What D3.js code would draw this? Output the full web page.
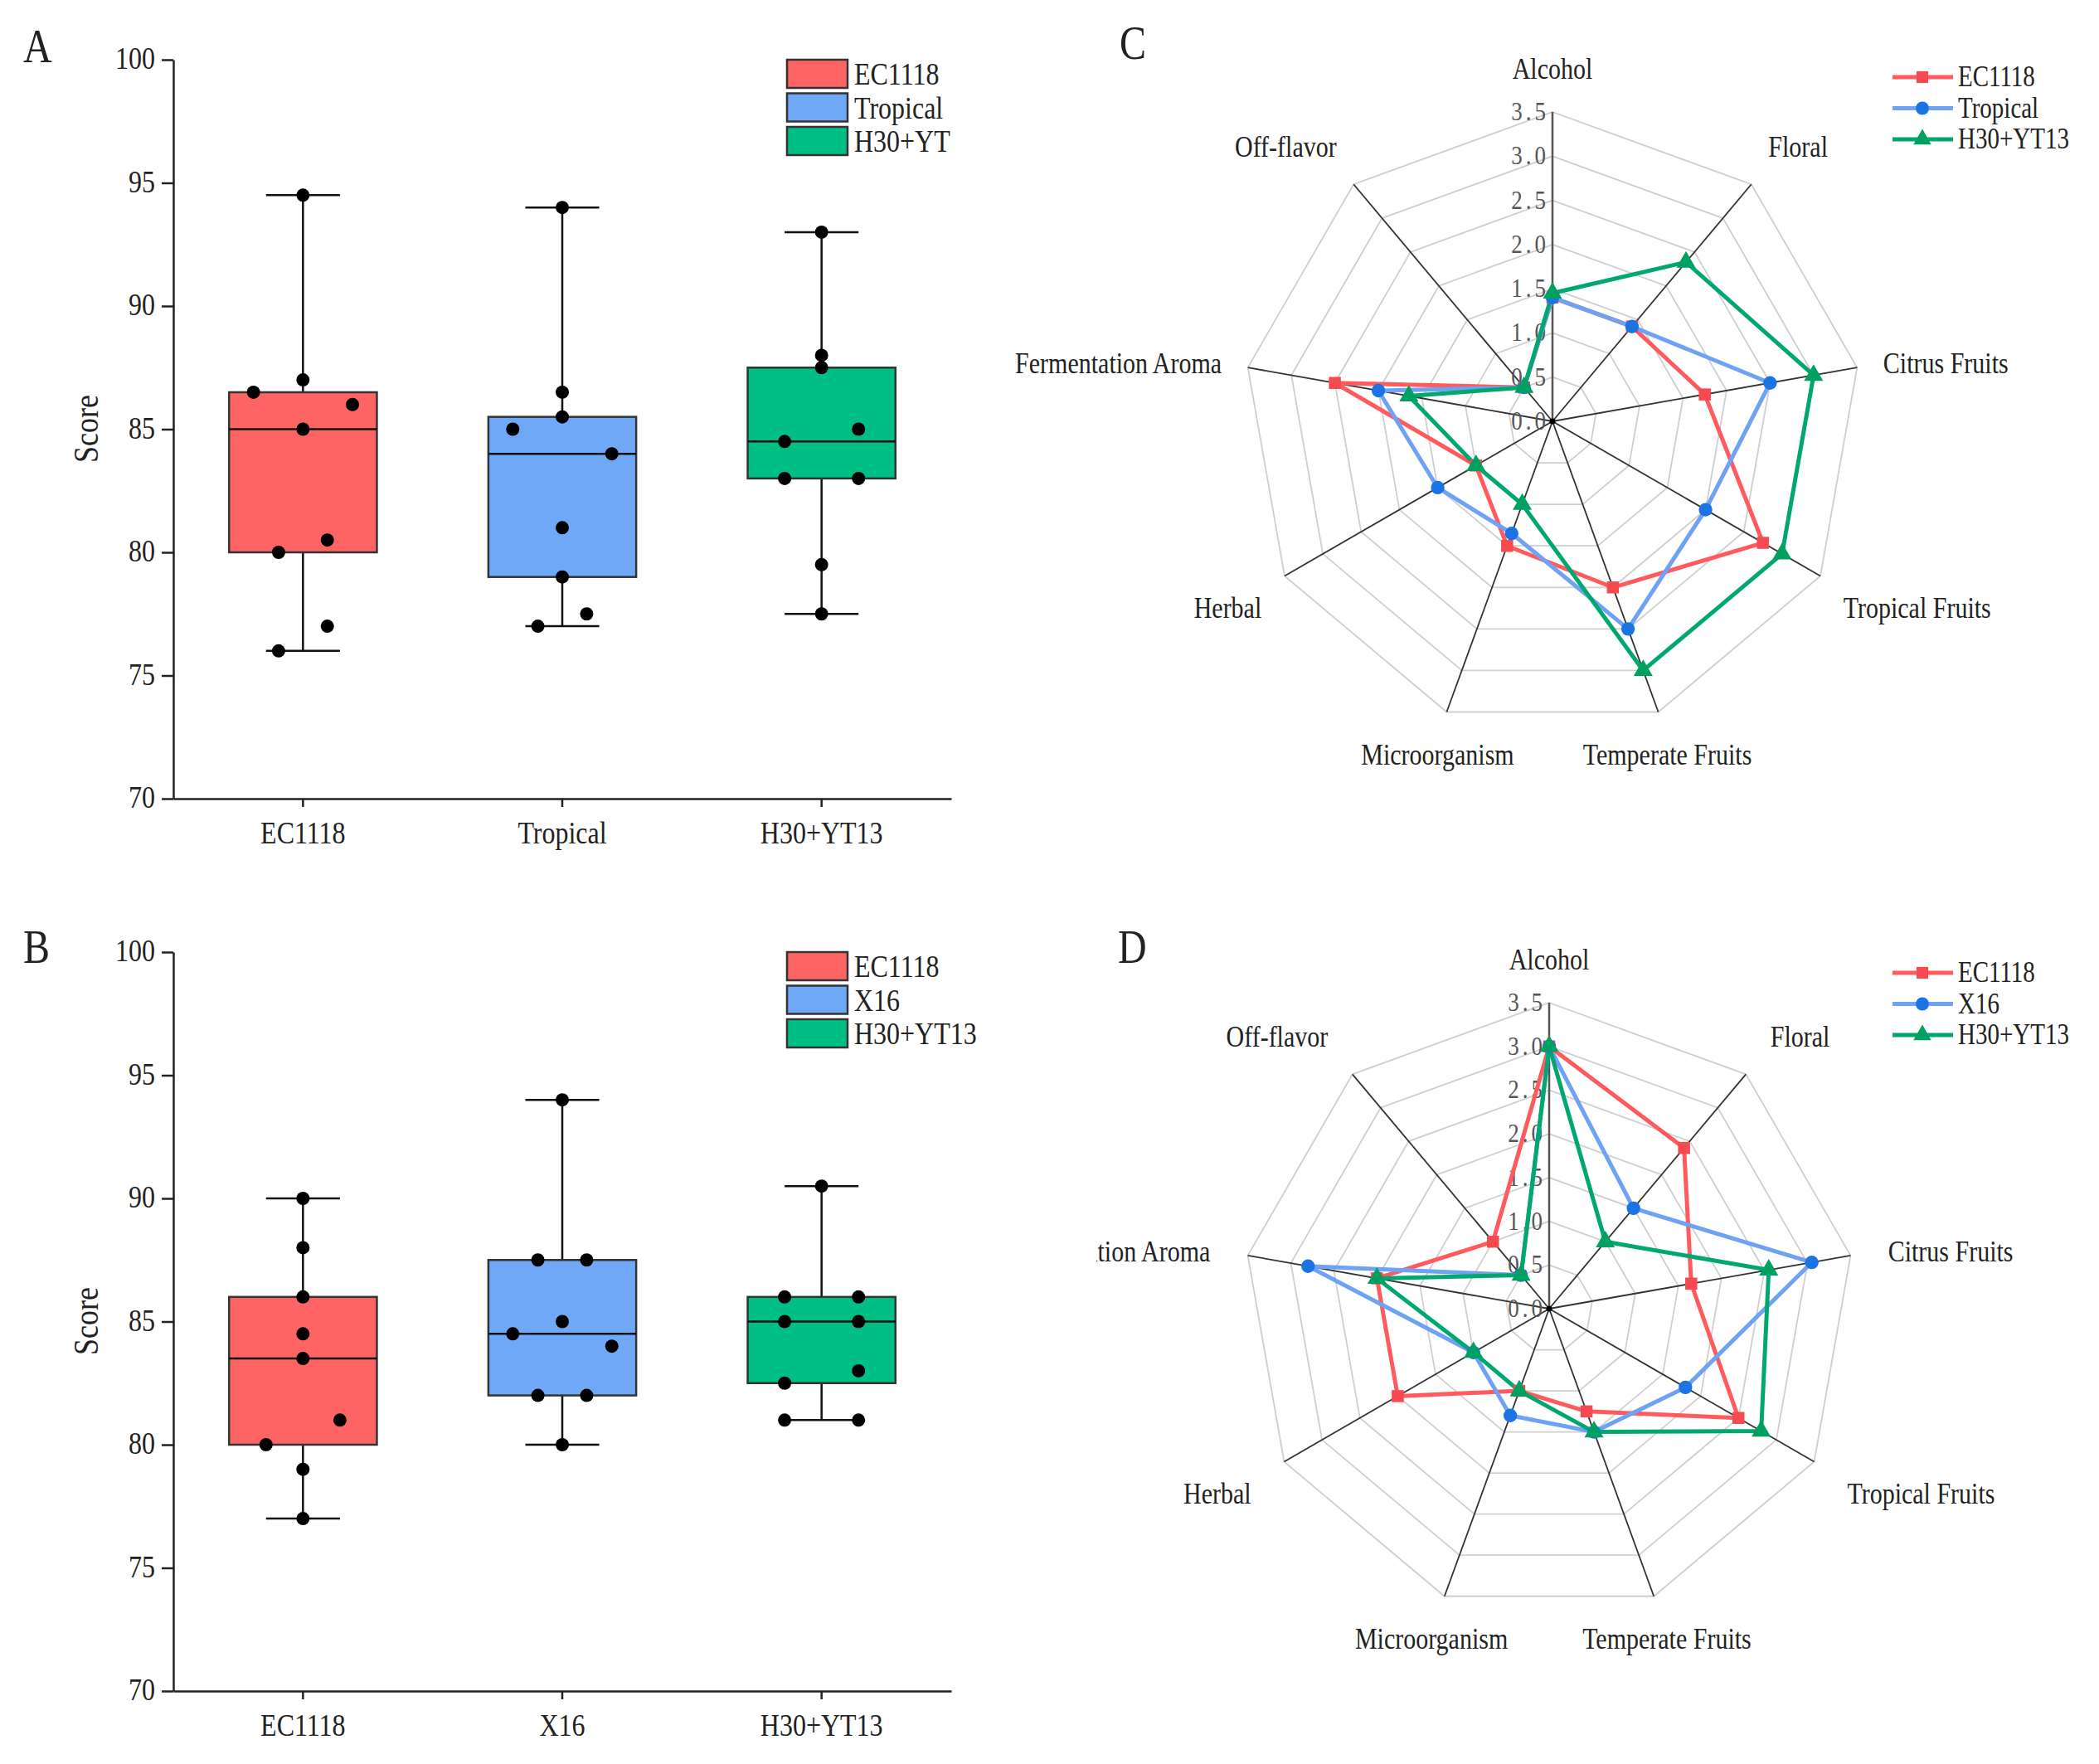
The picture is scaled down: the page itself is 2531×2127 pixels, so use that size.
<!DOCTYPE html>
<html>
<head>
<meta charset="utf-8">
<script src="https://cdn.jsdelivr.net/npm/d3@7"></script>
<style>
  body { margin: 0; background: #fff; }
  text { font-family: "Liberation Serif", "Times New Roman", serif; fill: #222; }
</style>
</head>
<body>
<svg id="fig" width="2531" height="2127"></svg>
<script>
// ---- box plot data (A, B) ----
const catsA = ["EC1118", "Tropical", "H30+YT13"];
const legendA = ["EC1118", "Tropical", "H30+YT"];
const scoresA = [
  [94.5, 87, 86.5, 86, 85, 80.5, 80, 77, 76],
  [94, 86.5, 85.5, 85, 84, 81, 79, 77.5, 77],
  [93, 88, 87.5, 85, 84.5, 83, 83, 79.5, 77.5]
];
// horizontal jitter of each dot, as a share of the half box width
const jitterA = [
  [0, 0, -0.67, 0.67, 0, 0.33, -0.33, 0.33, -0.33],
  [0, 0, 0, -0.67, 0.67, 0, 0, 0.33, -0.33],
  [0, 0, 0, 0.5, -0.5, -0.5, 0.5, 0, 0]
];

const catsB = ["EC1118", "X16", "H30+YT13"];
const legendB = ["EC1118", "X16", "H30+YT13"];
const scoresB = [
  [90, 88, 86, 84.5, 83.5, 81, 80, 79, 77],
  [94, 87.5, 87.5, 85, 84.5, 84, 82, 82, 80],
  [90.5, 86, 86, 85, 85, 83, 82.5, 81, 81]
];
const jitterB = [
  [0, 0, 0, 0, 0, 0.5, -0.5, 0, 0],
  [0, -0.33, 0.33, 0, -0.67, 0.67, -0.33, 0.33, 0],
  [0, -0.5, 0.5, -0.5, 0.5, 0.5, -0.5, -0.5, 0.5]
];
const scoreTicks = [70, 75, 80, 85, 90, 95, 100];

// ---- radar data (C, D) ----
const attributes = ["Alcohol", "Floral", "Citrus Fruits", "Tropical Fruits", "Temperate Fruits",
  "Microorganism", "Herbal", "Fermentation Aroma", "Off-flavor"];
const radarTicks = [0, 0.5, 1, 1.5, 2, 2.5, 3, 3.5];

const namesC = ["EC1118", "Tropical", "H30+YT13"];
const valuesC = [
  [1.4, 1.4, 1.75, 2.75, 2.0, 1.5, 1.0, 2.5, 0.5],
  [1.4, 1.4, 2.5, 2.0, 2.5, 1.35, 1.5, 2.0, 0.5],
  [1.45, 2.35, 3.0, 3.0, 3.0, 1.0, 1.0, 1.65, 0.5]
];
const namesD = ["EC1118", "X16", "H30+YT13"];
const valuesD = [
  [3.0, 2.4, 1.65, 2.5, 1.25, 1.0, 2.0, 2.0, 1.0],
  [3.0, 1.5, 3.05, 1.8, 1.5, 1.3, 1.0, 2.8, 0.5],
  [3.0, 1.0, 2.55, 2.8, 1.5, 1.0, 1.0, 2.0, 0.5]
];

const boxFill = ["#ff6464", "#70a8f8", "#00bf84"];
const lineCol = ["#ff5a5e", "#6fa2f4", "#00a870"];
const markCol = ["#f44a50", "#1a74e4", "#00a060"];
const markShape = [d3.symbolSquare, d3.symbolCircle, d3.symbolTriangle];

const SY = 1.2; // the figure's lettering is taller than it is wide
const svg = d3.select("#fig");
svg.append("rect").attr("width", 2531).attr("height", 2127).attr("fill", "#fff");

function label(g, x, y, txt, size, anchor) {
  return g.append("text")
    .attr("transform", `translate(${x},${y}) scale(1,${SY})`)
    .attr("text-anchor", anchor || "start")
    .style("font-size", size + "px")
    .text(txt);
}

function boxPanel(oy, letter, letterY, cats, legendNames, scores, jitter) {
  const g = svg.append("g").attr("transform", `translate(0,${oy})`);
  const x = d3.scaleBand().domain(cats).range([209, 1147]);
  const y = d3.scaleLinear().domain([70, 100]).range([963, 72]);
  const hw = x.bandwidth() * 0.57 / 2;

  const yAx = g.append("g").attr("transform", "translate(209,0)")
    .call(d3.axisLeft(y).tickValues(scoreTicks).tickSize(14).tickSizeOuter(0).tickPadding(8));
  const xAx = g.append("g").attr("transform", "translate(0,963)")
    .call(d3.axisBottom(x).tickSize(10).tickSizeOuter(0).tickPadding(12));
  [yAx, xAx].forEach(a => {
    a.selectAll("path, line").attr("stroke", "#222").attr("stroke-width", 2.5);
    a.selectAll("text").style("font-size", "32px").attr("fill", "#222")
      .attr("transform", `scale(1,${SY})`)
      .style("font-family", '"Liberation Serif", serif');
  });
  yAx.selectAll("text").attr("dy", "0.28em");

  label(g, 0, 0, "Score", 36, "middle")
    .attr("transform", `translate(118,517) rotate(-90) scale(1,${SY})`);

  cats.forEach((c, i) => {
    const v = scores[i];
    const cx = x(c) + x.bandwidth() / 2;
    const q1 = d3.quantile(v, 0.25), md = d3.median(v), q3 = d3.quantile(v, 0.75);
    const lo = d3.min(v), hi = d3.max(v);
    g.append("line").attr("x1", cx).attr("x2", cx).attr("y1", y(lo)).attr("y2", y(hi))
      .attr("stroke", "#111").attr("stroke-width", 2.5);
    [lo, hi].forEach(w => g.append("line")
      .attr("x1", cx - hw / 2).attr("x2", cx + hw / 2).attr("y1", y(w)).attr("y2", y(w))
      .attr("stroke", "#111").attr("stroke-width", 2.5));
    g.append("rect").attr("x", cx - hw).attr("width", 2 * hw)
      .attr("y", y(q3)).attr("height", y(q1) - y(q3))
      .attr("fill", boxFill[i]).attr("stroke", "#333").attr("stroke-width", 2.5);
    g.append("line").attr("x1", cx - hw).attr("x2", cx + hw).attr("y1", y(md)).attr("y2", y(md))
      .attr("stroke", "#111").attr("stroke-width", 2.5);
    g.selectAll(null).data(v).join("circle")
      .attr("cx", (d, j) => cx + jitter[i][j] * hw)
      .attr("cy", d => y(d)).attr("r", 8).attr("fill", "#000");
  });

  legendNames.forEach((n, i) => {
    const ly = 72 + i * 40.5;
    g.append("rect").attr("x", 949).attr("y", ly).attr("width", 73).attr("height", 34)
      .attr("fill", boxFill[i]).attr("stroke", "#333").attr("stroke-width", 2.5);
    label(g, 1030, ly + 30, n, 32);
  });
  label(svg, 28, letterY, letter, 48);
}

function radarPanel(cx, cy, R, pad, letter, lx, ly, names, values, legY, clipX) {
  const clipId = "clip" + letter;
  svg.append("clipPath").attr("id", clipId).append("rect")
    .attr("x", clipX).attr("y", 0).attr("width", 2531 - clipX).attr("height", 2127);
  const g = svg.append("g").attr("clip-path", `url(#${clipId})`);
  const r = d3.scaleLinear().domain([0, 3.5]).range([0, R]);
  const n = attributes.length;
  const ang = i => i * 2 * Math.PI / n;
  const pt = (i, v) => [cx + r(v) * Math.sin(ang(i)), cy - r(v) * Math.cos(ang(i))];

  const ring = d3.lineRadial().angle((d, i) => ang(i)).radius(d => r(d)).curve(d3.curveLinearClosed);
  radarTicks.slice(1).forEach(t => {
    g.append("path").attr("transform", `translate(${cx},${cy})`)
      .attr("d", ring(attributes.map(() => t)))
      .attr("fill", "none").attr("stroke", "#cfcfcf").attr("stroke-width", 1.8);
  });
  attributes.forEach((a, i) => {
    const [x2, y2] = pt(i, 3.5);
    g.append("line").attr("x1", cx).attr("y1", cy).attr("x2", x2).attr("y2", y2)
      .attr("stroke", "#333").attr("stroke-width", 1.8);
    const s = Math.sin(ang(i)), c = Math.cos(ang(i));
    const px = cx + (R + pad) * s, py = cy - (R + 30) * c;
    const anchor = s > 0.5 ? "start" : (s < -0.5 ? "end" : "middle");
    const dyc = c > 0.5 ? -22 : (c < -0.3 ? 23 : 0);
    label(g, px, py + dyc + 12, a, 30, anchor);
  });
  g.append("line").attr("x1", cx).attr("x2", cx).attr("y1", cy).attr("y2", cy - R)
    .attr("stroke", "#555").attr("stroke-width", 2.5);
  radarTicks.forEach(t => {
    label(g, cx - 4, cy - r(t) + 10, d3.format(".1f")(t), 27, "end")
      .style("fill", "#555").style("letter-spacing", "4px");
  });
  g.append("circle").attr("cx", cx).attr("cy", cy).attr("r", 3.5).attr("fill", "#000");

  const poly = d3.lineRadial().angle((d, i) => ang(i)).radius(d => r(d)).curve(d3.curveLinearClosed);
  values.forEach((vals, k) => {
    g.append("path").attr("transform", `translate(${cx},${cy})`)
      .attr("d", poly(vals)).attr("fill", "none")
      .attr("stroke", lineCol[k]).attr("stroke-width", 5).attr("stroke-linejoin", "round");
  });
  values.forEach((vals, k) => {
    g.selectAll(null).data(vals).join("path")
      .attr("transform", (d, i) => `translate(${pt(i, d)})`)
      .attr("d", d3.symbol(markShape[k], k === 2 ? 230 : 210))
      .attr("fill", markCol[k]);
  });

  names.forEach((nm, k) => {
    const y = legY + k * 37.5;
    svg.append("line").attr("x1", 2282).attr("x2", 2355).attr("y1", y).attr("y2", y)
      .attr("stroke", lineCol[k]).attr("stroke-width", 5);
    svg.append("path").attr("transform", `translate(2318,${y})`)
      .attr("d", d3.symbol(markShape[k], 200)).attr("fill", markCol[k]);
    label(svg, 2361, y + 11, nm, 29);
  });
  label(svg, lx, ly, letter, 48);
}

boxPanel(0, "A", 75, catsA, legendA, scoresA, jitterA);
boxPanel(1076, "B", 1161, catsB, legendB, scoresB, jitterB);
radarPanel(1872, 508, 373, 32, "C", 1350, 71, namesC, valuesC, 93, 1160);
radarPanel(1868, 1578, 369, 46, "D", 1348, 1161, namesD, valuesD, 1173, 1322);
</script>
</body>
</html>
